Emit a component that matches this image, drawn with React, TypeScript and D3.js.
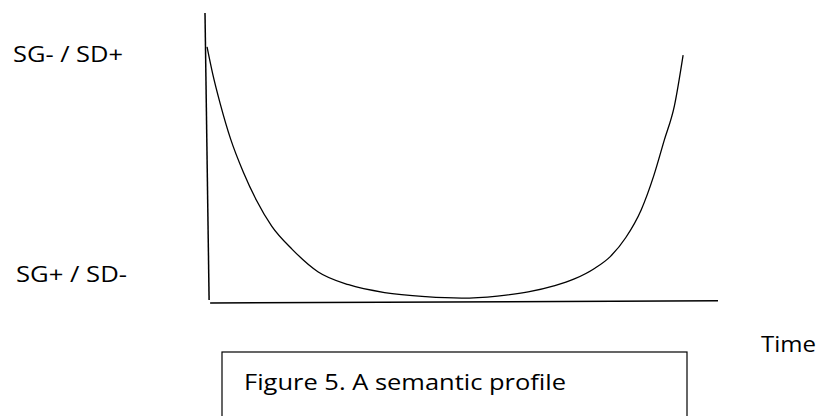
import React from "react";
import * as d3 from "d3";

// Curve: time (0-100) vs semantic value (0 = SG+/SD-, 100 = SG-/SD+)
const curveTime = [0.4, 1.5, 3, 5, 7.5, 10, 13, 17, 22, 28, 35, 43, 50, 57, 63, 68, 72, 76, 79, 82, 85, 87.5, 89.5, 91.5, 93.2];
const curveValue = [88.3, 79, 68.5, 56.5, 45, 35.5, 26.5, 18.5, 10.8, 6.3, 3.6, 2.2, 1.7, 2.4, 3.8, 5.9, 8.3, 12, 16, 22.5, 32, 44, 56, 68, 85.5];

// Hand-drawn axes (slightly slanted), in data units
const yAxisTime = [0, 0.8];
const yAxisValue = [100, 1];
const xAxisTime = [1, 100];
const xAxisValue = [0, 0.8];

const yLabels = ["SG- / SD+", "SG+ / SD-"];
const xLabel = "Time";
const caption = "Figure 5. A semantic profile";

export default function App() {
  const W = 819, H = 416;
  const x = d3.scaleLinear().domain([0, 100]).range([205, 718]);
  const y = d3.scaleLinear().domain([0, 100]).range([303, 13]);

  const pts: [number, number][] = curveTime.map((t, i) => [t, curveValue[i]]);
  const line = d3
    .line<[number, number]>()
    .x((d) => x(d[0]))
    .y((d) => y(d[1]))
    .curve(d3.curveMonotoneX);

  const font = "'Open Sans', 'Noto Sans', sans-serif";

  return (
    <svg
      width={W}
      height={H}
      viewBox={`0 0 ${W} ${H}`}
      style={{ position: "absolute", left: 0, top: 0, background: "#fff" }}
    >
      <rect x={0} y={0} width={W} height={H} fill="#fff" />
      {/* y axis */}
      <line
        x1={x(yAxisTime[0])}
        y1={y(yAxisValue[0])}
        x2={x(yAxisTime[1])}
        y2={y(yAxisValue[1])}
        stroke="#000"
        strokeWidth={1.5}
      />
      {/* x axis */}
      <line
        x1={x(xAxisTime[0])}
        y1={y(xAxisValue[0])}
        x2={x(xAxisTime[1])}
        y2={y(xAxisValue[1])}
        stroke="#000"
        strokeWidth={1.5}
      />
      {/* curve */}
      <path d={line(pts) || ""} fill="none" stroke="#000" strokeWidth={1.3} />

      {/* labels */}
      <text x={13} y={62} fontFamily={font} fontSize={22} fill="#000" textLength={110} lengthAdjust="spacingAndGlyphs">
        {yLabels[0]}
      </text>
      <text x={16} y={282} fontFamily={font} fontSize={22} fill="#000" textLength={111} lengthAdjust="spacingAndGlyphs">
        {yLabels[1]}
      </text>
      <text x={761} y={352} fontFamily={font} fontSize={22} fill="#000" textLength={55} lengthAdjust="spacingAndGlyphs">
        {xLabel}
      </text>

      {/* caption box */}
      <rect x={222} y={352} width={465} height={80} fill="none" stroke="#000" strokeWidth={1.2} />
      <text x={244} y={390} fontFamily={font} fontSize={22} fill="#000" textLength={322} lengthAdjust="spacingAndGlyphs">
        {caption}
      </text>
    </svg>
  );
}
